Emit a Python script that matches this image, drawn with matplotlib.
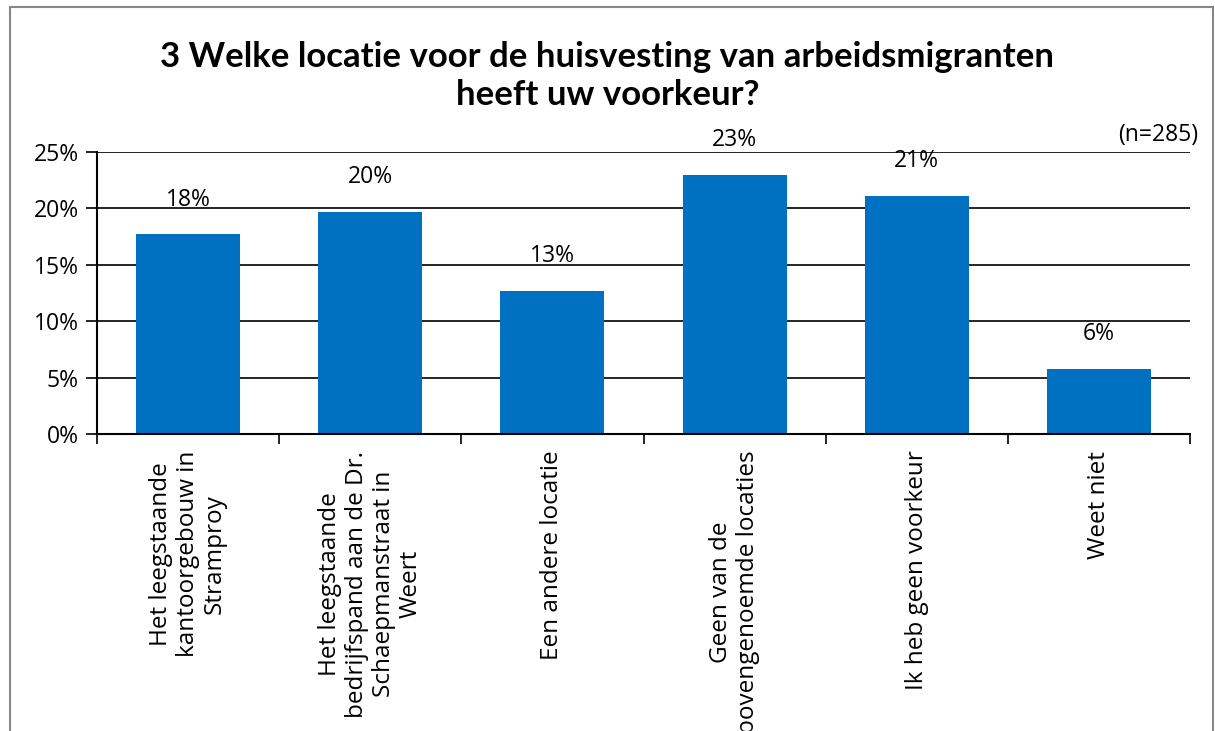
import matplotlib
matplotlib.use('Agg')
import matplotlib.pyplot as plt
from matplotlib.patches import Rectangle
from matplotlib.ticker import FuncFormatter, FixedLocator
import numpy as np

# data
categories = ['Het leegstaande\nkantoorgebouw in\nStramproy',
              'Het leegstaande\nbedrijfspand aan de Dr.\nSchaepmanstraat in\nWeert',
              'Een andere locatie',
              'Geen van de\nbovengenoemde locaties',
              'Ik heb geen voorkeur',
              'Weet niet']
values = [17.7, 19.7, 12.7, 23.0, 21.1, 5.8]
value_labels = ['18%', '20%', '13%', '23%', '21%', '6%']
yticks = [0, 5, 10, 15, 20, 25]

title = '3 Welke locatie voor de huisvesting van arbeidsmigranten\nheeft uw voorkeur?'
note = '(n=285)'

plt.rcParams['font.family'] = ['Open Sans', 'DejaVu Sans']
blue = '#0070C0'
fs = 16.5

fig = plt.figure(figsize=(12.15, 7.31), dpi=100)
ax = fig.add_axes([97/1215, 1 - 434/731, (1190 - 97)/1215, (434 - 152)/731])

x = np.arange(len(categories))
bars = ax.bar(x, values, width=0.57, color=blue, zorder=3)

for b, lab in zip(bars, value_labels):
    ax.annotate(lab, (b.get_x() + b.get_width()/2, b.get_height()),
                xytext=(0, 25), textcoords='offset points',
                ha='center', va='center', fontsize=fs)

ax.set_xlim(-0.5, len(categories) - 0.5)
ax.set_ylim(0, 25)
ax.set_yticks(yticks)
ax.yaxis.set_major_formatter(FuncFormatter(lambda v, p: '%d%%' % v))
ax.grid(axis='y', color='black', linewidth=1.2, zorder=0)

# category labels on minor ticks, boundary ticks on major
ax.xaxis.set_major_locator(FixedLocator(np.arange(len(categories) + 1) - 0.5))
ax.set_xticklabels([])
ax.xaxis.set_minor_locator(FixedLocator(x))
ax.set_xticklabels(categories, minor=True, rotation=90, ha='center', va='top',
                   multialignment='center', fontsize=17.5, linespacing=1.15)
ax.tick_params(axis='x', which='minor', length=0, pad=12)
ax.tick_params(axis='x', which='major', length=7, width=1.2, direction='out')
ax.tick_params(axis='y', length=8, width=1.2, direction='out', labelsize=fs, pad=5)

for s in ['top', 'right']:
    ax.spines[s].set_visible(False)
for s in ['left', 'bottom']:
    ax.spines[s].set_linewidth(1.5)
    ax.spines[s].set_zorder(4)

fig.text(0.5, 1 - 76/731, title, ha='center', va='center', fontsize=25,
         fontweight='bold', family=['Lato', 'DejaVu Sans'], linespacing=1.25)
fig.text(1198/1215, 1 - 135/731, note, ha='right', va='center', fontsize=fs)

fig.patches.append(Rectangle((10/1215, -0.05), 1203/1215, 1 - 7/731 + 0.05,
                             transform=fig.transFigure, fill=False,
                             edgecolor='#878787', linewidth=1.5))

fig.savefig('out.png', dpi=100)
